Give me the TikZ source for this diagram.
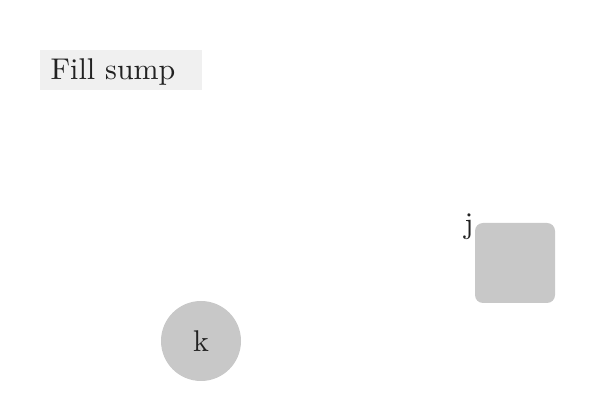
\documentclass[tikz,border=0pt]{standalone}
\definecolor{boxgray}{HTML}{F0F0F0}
\definecolor{shapegray}{HTML}{C8C8C8}
\definecolor{txt}{HTML}{222222}
\tikzset{
  txtstyle/.style={text=txt, font=\fontsize{10}{12}\selectfont, inner sep=0pt, scale=1.5, transform shape},
}
\begin{document}
\begin{tikzpicture}[x=0.5pt,y=-0.5pt]
\useasboundingbox (0,0) rectangle (600,400);
\fill[boxgray] (40,50) rectangle (202,90);
\node[txtstyle, anchor=base west] (fill) at (50,80) {Fill sump};
\fill[shapegray, rounded corners=4pt] (475,223) rectangle (555,303);
\node[txtstyle, anchor=base] (jlab) at (469,234) {j};
\node[circle, fill=shapegray, minimum size=40pt, inner sep=0pt] (k) at (201,341) {};
\node[txtstyle] at (k.center) {k};
\end{tikzpicture}
\end{document}
